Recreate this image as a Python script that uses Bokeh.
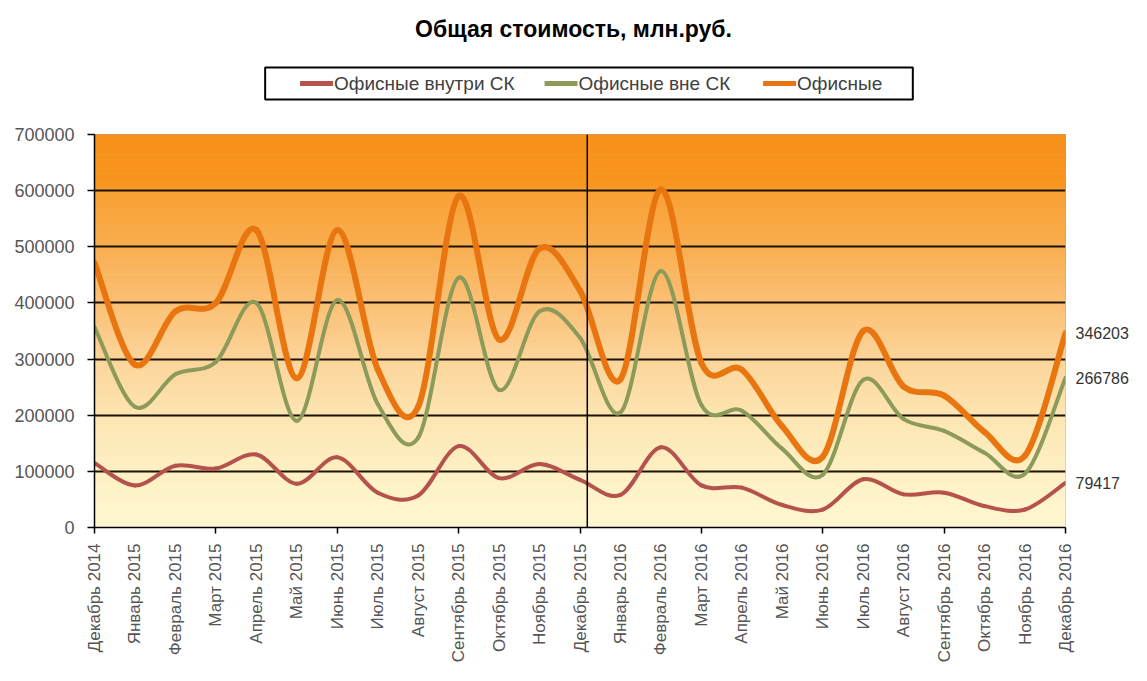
import numpy as np
from bokeh.plotting import figure
from bokeh.layouts import column
from bokeh.models import (Range1d, FixedTicker, NumeralTickFormatter, Span, Label,
                          LinearAxis)
from bokeh.embed import file_html
from bokeh.resources import INLINE

# ---------------- data ----------------
months = ["Декабрь 2014", "Январь 2015", "Февраль 2015", "Март 2015", "Апрель 2015",
          "Май 2015", "Июнь 2015", "Июль 2015", "Август 2015", "Сентябрь 2015",
          "Октябрь 2015", "Ноябрь 2015", "Декабрь 2015", "Январь 2016", "Февраль 2016",
          "Март 2016", "Апрель 2016", "Май 2016", "Июнь 2016", "Июль 2016",
          "Август 2016", "Сентябрь 2016", "Октябрь 2016", "Ноябрь 2016", "Декабрь 2016"]

series_names = ["Офисные внутри СК", "Офисные вне СК", "Офисные"]

inside_sk = [115000, 75000, 110000, 105000, 130000, 78000, 125000, 62000, 57000, 145000,
             88000, 113000, 85000, 58000, 143000, 75000, 71000, 40000, 32000, 86000,
             59000, 62000, 38000, 32000, 79417]
outside_sk = [357000, 215000, 273000, 295000, 400000, 190000, 405000, 220000, 160000, 445000,
              245000, 385000, 338000, 205000, 457000, 218000, 208000, 140000, 94000, 263000,
              193000, 172000, 133000, 96000, 266786]
office_total = [472000, 290000, 385000, 400000, 530000, 266000, 530000, 282000, 215000, 590000,
                335000, 497000, 422000, 264000, 602000, 293000, 281000, 180000, 126000, 350000,
                251000, 235000, 170000, 128000, 346203]

title_text = "Общая стоимость, млн.руб."

# ---------------- style ----------------
FONT = "Liberation Sans"
RED = "#B5524C"
GREEN = "#8C9A5A"
ORANGE = "#E8750F"
W = 1131
TOP_H = 122
MAIN_H = 543
FRAME_L, FRAME_R = 94, 1067

# ---------- header (title + legend), header coordinates = page pixels ----------
top = figure(width=W, height=TOP_H, output_backend="svg", toolbar_location=None,
             x_range=Range1d(FRAME_L, FRAME_R), y_range=Range1d(TOP_H, 0),
             x_axis_type=None, y_axis_type=None, min_border=0,
             outline_line_color=None, background_fill_color="white",
             border_fill_color="white")
top.xgrid.grid_line_color = None
top.ygrid.grid_line_color = None
top.add_layout(Label(x=574, y=28, text=title_text, text_align="center",
                     text_baseline="middle", text_font=FONT, text_font_size="23px",
                     text_font_style="bold", text_color="black"))

# legend box
LEG_L, LEG_R, LEG_T, LEG_B = 265, 914, 67, 99
top.quad(left=LEG_L, right=LEG_R, top=LEG_T, bottom=LEG_B, fill_color="white",
         line_color="black", line_width=2)
sw_left = [300, 545, 764]
SW_W = 33
ymid = (LEG_T + LEG_B) / 2
for name, col, xl in zip(series_names, (RED, GREEN, ORANGE), sw_left):
    top.segment(x0=xl, y0=ymid, x1=xl + SW_W, y1=ymid, line_color=col, line_width=5)
    top.add_layout(Label(x=xl + SW_W + 1, y=ymid, text=name, text_align="left",
                         text_baseline="middle", text_font=FONT, text_font_size="19px",
                         text_color="#404040"))

# ---------- main chart ----------
p = figure(width=W, height=MAIN_H, output_backend="svg", toolbar_location=None,
           x_range=Range1d(0, 24), y_range=Range1d(0, 700000),
           min_border_left=FRAME_L, min_border_right=W - FRAME_R, min_border_bottom=137,
           min_border_top=12, background_fill_color="white",
           border_fill_color="white")

# gradient background of the plot area
stops_v = [0, 100000, 200000, 300000, 400000, 500000, 600000, 610000, 700000]
stops_c = ["#FFF7D0", "#FEF0C4", "#FDE5B2", "#FCD59A", "#FAC075", "#F9AE50",
           "#F9A034", "#F8961F", "#F7921C"]
rgb = np.array([[int(c[i:i + 2], 16) for i in (1, 3, 5)] for c in stops_c], float)
edges = np.arange(0, 700001, 5000)
mids = (edges[:-1] + edges[1:]) / 2
cols = ["#%02x%02x%02x" % tuple(int(round(np.interp(m, stops_v, rgb[:, k]))) for k in range(3))
        for m in mids]
bg = p.quad(left=0, right=24, bottom=edges[:-1], top=edges[1:], fill_color=cols,
            line_color=cols, line_width=1)
bg.level = "image"

p.outline_line_color = "#9A9A9A"
p.outline_line_width = 1

p.xgrid.grid_line_color = None
p.ygrid.grid_line_color = "#1C1200"
p.ygrid.grid_line_width = 1.8

# smooth (Bezier) lines through the monthly points
x = np.arange(len(months), dtype=float)


def smooth(vals, color, width):
    v = np.asarray(vals, float)
    xp = np.concatenate([[x[0]], x, [x[-1]]])
    vp = np.concatenate([[v[0]], v, [v[-1]]])
    cx0 = x[:-1] + (xp[2:-1] - xp[:-3]) / 6
    cy0 = v[:-1] + (vp[2:-1] - vp[:-3]) / 6
    cx1 = x[1:] - (xp[3:] - xp[1:-2]) / 6
    cy1 = v[1:] - (vp[3:] - vp[1:-2]) / 6
    return p.bezier(x0=x[:-1], y0=v[:-1], x1=x[1:], y1=v[1:], cx0=cx0, cy0=cy0,
                    cx1=cx1, cy1=cy1, line_color=color, line_width=width,
                    line_cap="round")


smooth(outside_sk, GREEN, 4)
smooth(inside_sk, RED, 4)
smooth(office_total, ORANGE, 6)

# divider at December 2015
p.add_layout(Span(location=12.18, dimension="height", line_color="black", line_width=1.5))

# axes
p.xaxis.ticker = FixedTicker(ticks=list(range(len(months))),
                             minor_ticks=list(range(0, len(months), 3)))
p.xaxis.major_label_overrides = {i: m for i, m in enumerate(months)}
p.xaxis.major_label_orientation = np.pi / 2
p.xaxis.major_tick_line_color = None
p.xaxis.major_tick_out = 6
p.xaxis.major_tick_in = 0
p.xaxis.minor_tick_line_color = "black"
p.xaxis.minor_tick_line_width = 1.5
p.xaxis.minor_tick_out = 6
p.xaxis.minor_tick_in = 0
p.xaxis.major_label_standoff = 10

p.yaxis.ticker = FixedTicker(ticks=list(range(0, 700001, 100000)))
p.yaxis.formatter = NumeralTickFormatter(format="0")
p.yaxis.major_tick_out = 7
p.yaxis.major_tick_in = 0
p.yaxis.minor_tick_line_color = None
p.yaxis.major_label_standoff = 13
p.yaxis.major_tick_line_color = "black"
p.yaxis.major_tick_line_width = 1.5

for ax in (p.xaxis[0], p.yaxis[0]):
    ax.axis_line_color = "black"
    ax.axis_line_width = 1.5
    ax.major_label_text_font = FONT
    ax.major_label_text_color = "#555555"
p.yaxis.major_label_text_font_size = "18px"
p.xaxis.major_label_text_font_size = "17px"

# end values shown on a right-hand axis
last_vals = [office_total[-1], outside_sk[-1], inside_sk[-1]]
raxis = LinearAxis(ticker=FixedTicker(ticks=last_vals),
                   formatter=NumeralTickFormatter(format="0"),
                   axis_line_color=None, major_tick_line_color=None,
                   minor_tick_line_color=None, major_tick_in=0, major_tick_out=0,
                   major_label_standoff=10, major_label_text_font=FONT,
                   major_label_text_font_size="16px", major_label_text_color="#333333")
p.add_layout(raxis, "right")

open("out.html", "w").write(file_html(column(top, p, spacing=0), INLINE))
